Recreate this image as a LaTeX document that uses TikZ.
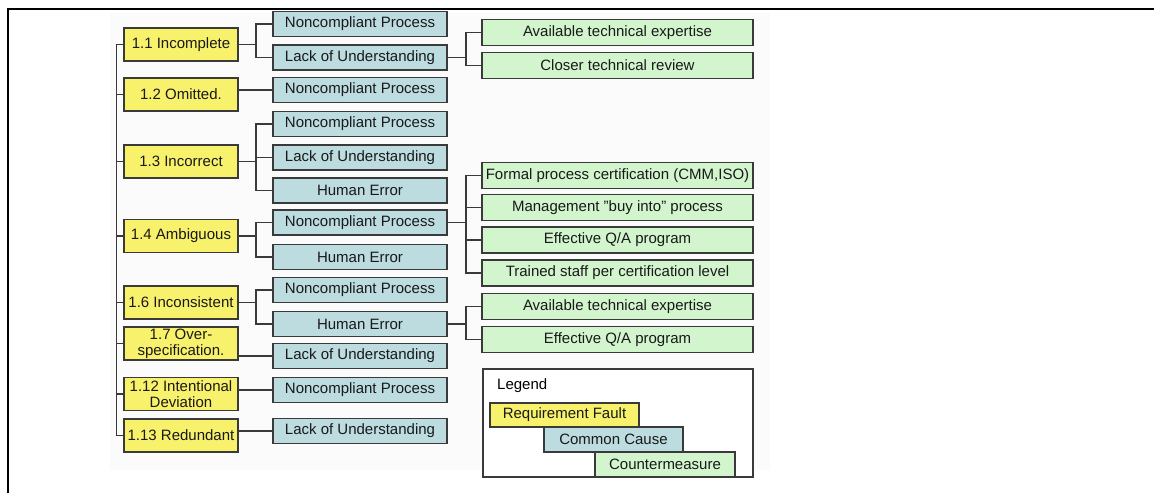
\documentclass[tikz,border=0pt]{standalone}
\usepackage{fontspec}
\setmainfont{Liberation Sans}
\definecolor{faultyellow}{HTML}{F8F16C}
\definecolor{causeblue}{HTML}{BCDCE0}
\definecolor{measuregreen}{HTML}{D2F5CE}
\definecolor{linegray}{HTML}{3A3A3A}
\begin{document}
\begin{tikzpicture}[
    x=1pt, y=-1pt,
    box/.style={draw=linegray, line width=1.4pt, inner sep=0pt, align=center, font=\fontsize{15}{16}\selectfont, text=black!90},
    fault/.style={box, fill=faultyellow, minimum width=114pt, minimum height=33pt},
    cause/.style={box, fill=causeblue, minimum width=174pt, minimum height=25pt},
    measure/.style={box, fill=measuregreen, minimum width=271pt, minimum height=26pt},
    link/.style={draw=linegray, line width=1.6pt},
  ]
    \useasboundingbox (0,0) rectangle (1154,493);
    \fill[black!1.5] (110,13) rectangle (770,470);
    % Frame
    \draw[line width=2.2pt] (8,493) -- (8,9) -- (1154,9);

    % Requirement faults
    \node[fault] (f11) at (181,44.5) {1.1 Incomplete};
    \node[fault] (f12) at (181,94.5) {1.2 Omitted.};
    \node[fault] (f13) at (181,161.5) {1.3 Incorrect};
    \node[fault] (f14) at (181,236) {1.4 Ambiguous};
    \node[fault] (f16) at (181,302.5) {1.6 Inconsistent};
    \node[fault] (f17) at (181,343.5) {1.7 Over-\\specification.};
    \node[fault] (f112) at (181,394) {1.12 Intentional\\Deviation};
    \node[fault] (f113) at (181,435.5) {1.13 Redundant};

    % Common causes
    \node[cause] (c1) at (360,24) {Noncompliant Process};
    \node[cause] (c2) at (360,57.5) {Lack of Understanding};
    \node[cause] (c3) at (360,90) {Noncompliant Process};
    \node[cause] (c4) at (360,124) {Noncompliant Process};
    \node[cause] (c5) at (360,157.5) {Lack of Understanding};
    \node[cause] (c6) at (360,190.5) {Human Error};
    \node[cause] (c7) at (360,222.5) {Noncompliant Process};
    \node[cause] (c8) at (360,257) {Human Error};
    \node[cause] (c9) at (360,290) {Noncompliant Process};
    \node[cause] (c10) at (360,324) {Human Error};
    \node[cause] (c11) at (360,356) {Lack of Understanding};
    \node[cause] (c12) at (360,390) {Noncompliant Process};
    \node[cause] (c13) at (360,431) {Lack of Understanding};

    % Countermeasures
    \node[measure] (m1) at (617.5,32.5) {Available technical expertise};
    \node[measure] (m2) at (617.5,65.5) {Closer technical review};
    \node[measure] (m3) at (617.5,175.5) {Formal process certification (CMM,ISO)};
    \node[measure] (m4) at (617.5,207.5) {Management "buy into" process};
    \node[measure] (m5) at (617.5,240) {Effective Q/A program};
    \node[measure] (m6) at (617.5,273) {Trained staff per certification level};
    \node[measure] (m7) at (617.5,306.5) {Available technical expertise};
    \node[measure] (m8) at (617.5,339.5) {Effective Q/A program};

    % Spine
    \draw[link] (f11.west) -- ++(-7,0) coordinate (s0) |- (f113.west);
    \draw[link] (f12.west) -- (f12.west -| s0);
    \draw[link] (f13.west) -- (f13.west -| s0);
    \draw[link] (f14.west) -- (f14.west -| s0);
    \draw[link] (f16.west) -- (f16.west -| s0);
    \draw[link] (f17.west) -- (f17.west -| s0);
    \draw[link] (f112.west) -- (f112.west -| s0);

    % Faults to causes
    \draw[link] (f11.east) -- ++(17,0) coordinate (j11);
    \draw[link] (j11) |- (c1.west);
    \draw[link] (j11) |- (c2.west);
    \draw[link] (f12.east |- c3.west) -- (c3.west);
    \draw[link] (f13.east) -- ++(17,0) coordinate (j13);
    \draw[link] (j13) |- (c4.west);
    \draw[link] (j13) |- (c5.west);
    \draw[link] (j13) |- (c6.west);
    \draw[link] (f14.east) -- ++(17,0) coordinate (j14);
    \draw[link] (j14) |- (c7.west);
    \draw[link] (j14) |- (c8.west);
    \draw[link] (f16.east) -- ++(17,0) coordinate (j16);
    \draw[link] (j16) |- (c9.west);
    \draw[link] (j16) |- (c10.west);
    \draw[link] (f17.east |- c11.west) -- (c11.west);
    \draw[link] (f112.east |- c12.west) -- (c12.west);
    \draw[link] (f113.east |- c13.west) -- (c13.west);

    % Causes to countermeasures
    \draw[link] (c2.east) -- ++(18,0) coordinate (k2);
    \draw[link] (k2) |- (m1.west);
    \draw[link] (k2) |- (m2.west);
    \draw[link] (c7.east) -- ++(18,0) coordinate (k7);
    \draw[link] (k7) |- (m3.west);
    \draw[link] (k7) |- (m4.west);
    \draw[link] (k7) |- (m5.west);
    \draw[link] (k7) |- (m6.west);
    \draw[link] (c10.east) -- ++(18,0) coordinate (k10);
    \draw[link] (k10) |- (m7.west);
    \draw[link] (k10) |- (m8.west);

    % Legend
    \node[draw=linegray, line width=1.4pt, fill=white, minimum width=270pt, minimum height=108pt, inner sep=0pt] (legend) at (618,423) {};
    \node[font=\fontsize{15}{16}\selectfont, anchor=west, inner sep=0pt] (legendtitle) at (497,386) {Legend};
    \node[fault, minimum width=149pt, minimum height=24pt] (lf) at (564.5,415) {Requirement Fault};
    \node[cause, minimum width=139pt] (lc) at (613.5,439.5) {Common Cause};
    \node[measure, minimum width=140pt, minimum height=25pt] (lm) at (665,464.5) {Countermeasure};
\end{tikzpicture}
\end{document}
